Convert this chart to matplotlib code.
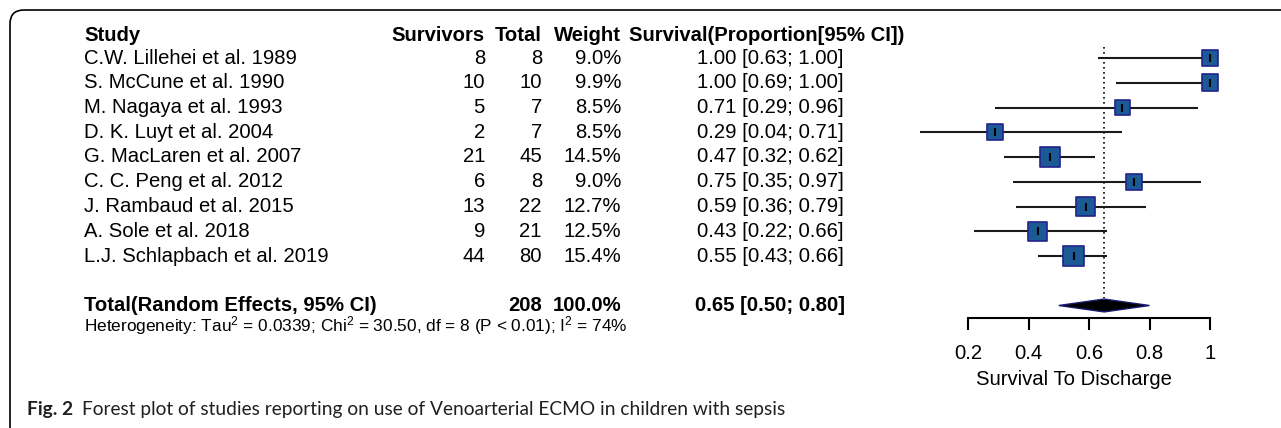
import matplotlib
matplotlib.use('Agg')
import matplotlib.pyplot as plt
from matplotlib.patches import FancyBboxPatch
import numpy as np

plt.rcParams['font.family'] = ['Liberation Sans', 'DejaVu Sans']
plt.rcParams['mathtext.fontset'] = 'custom'
plt.rcParams['mathtext.rm'] = 'Liberation Sans'
plt.rcParams['mathtext.default'] = 'regular'

# ---------------------------------------------------------------- data
studies = ['C.W. Lillehei et al. 1989', 'S. McCune et al. 1990', 'M. Nagaya et al. 1993',
           'D. K. Luyt et al. 2004', 'G. MacLaren et al. 2007', 'C. C. Peng et al. 2012',
           'J. Rambaud et al. 2015', 'A. Sole et al. 2018', 'L.J. Schlapbach et al. 2019']
survivors = [8, 10, 5, 2, 21, 6, 13, 9, 44]
totals = [8, 10, 7, 7, 45, 8, 22, 21, 80]
weights = [9.0, 9.9, 8.5, 8.5, 14.5, 9.0, 12.7, 12.5, 15.4]
prop = [1.00, 1.00, 0.71, 0.29, 0.47, 0.75, 0.59, 0.43, 0.55]
lower = [0.63, 0.69, 0.29, 0.04, 0.32, 0.35, 0.36, 0.22, 0.43]
upper = [1.00, 1.00, 0.96, 0.71, 0.62, 0.97, 0.79, 0.66, 0.66]
pooled, pooled_lo, pooled_hi = 0.65, 0.50, 0.80
total_n = 208
het = 'Heterogeneity: Tau$^2$ = 0.0339; Chi$^2$ = 30.50, df = 8 (P < 0.01); I$^2$ = 74%'
xticks = [0.2, 0.4, 0.6, 0.8, 1.0]
xticklabels = ['0.2', '0.4', '0.6', '0.8', '1']
caption_bold = 'Fig. 2'
caption = 'Forest plot of studies reporting on use of Venoarterial ECMO in children with sepsis'

W, H = 1281, 428
fig = plt.figure(figsize=(W/100, H/100), dpi=100)

# background axes in pixel units for the text table and frame
bg = fig.add_axes([0, 0, 1, 1])
bg.set_xlim(0, W)
bg.set_ylim(H, 0)
bg.axis('off')
frame = FancyBboxPatch((10, 10), 1400, 460, boxstyle='round,pad=0,rounding_size=14',
                       fc='none', ec='k', lw=1.2)
bg.add_patch(frame)

fs = 14.6
row0 = 58
dy = 24.75
xs_name, xs_surv, xs_tot, xs_w, xs_ci = 84, 485, 542, 621, 770

bg.text(xs_name, 35, 'Study', fontsize=fs, fontweight='bold', va='center')
bg.text(xs_surv, 35, 'Survivors', fontsize=fs, fontweight='bold', va='center', ha='right')
bg.text(xs_tot, 35, 'Total', fontsize=fs, fontweight='bold', va='center', ha='right')
bg.text(xs_w, 35, 'Weight', fontsize=fs, fontweight='bold', va='center', ha='right')
bg.text(629, 35, 'Survival(Proportion[95% CI])', fontsize=fs, fontweight='bold', va='center')

for i in range(len(studies)):
    yy = row0 + i*dy
    bg.text(xs_name, yy, studies[i], fontsize=fs, va='center')
    bg.text(xs_surv, yy, str(survivors[i]), fontsize=fs, va='center', ha='right')
    bg.text(xs_tot, yy, str(totals[i]), fontsize=fs, va='center', ha='right')
    bg.text(xs_w, yy, '%.1f%%' % weights[i], fontsize=fs, va='center', ha='right')
    bg.text(xs_ci, yy, '%.2f [%.2f; %.2f]' % (prop[i], lower[i], upper[i]),
            fontsize=fs, va='center', ha='center')

yt = 311
bg.text(xs_name, yt, 'Total(Random Effects, 95% CI)', fontsize=fs, fontweight='bold', va='baseline')
bg.text(xs_tot, yt, str(total_n), fontsize=fs, fontweight='bold', va='baseline', ha='right')
bg.text(xs_w, yt, '%.1f%%' % sum(weights), fontsize=fs, fontweight='bold', va='baseline', ha='right')
bg.text(xs_ci, yt, '%.2f [%.2f; %.2f]' % (pooled, pooled_lo, pooled_hi),
        fontsize=fs, fontweight='bold', va='baseline', ha='center')
bg.text(xs_name, 331, het, fontsize=12.4, va='baseline')

# caption
t1 = bg.text(27, 410, caption_bold, fontsize=13.8, fontweight='bold', va='center',
             family=['Lato', 'DejaVu Sans'], color='#231f20')
fig.canvas.draw()
bb = t1.get_window_extent()
bg.text(bb.x1 + 9, 410, caption, fontsize=13.8, va='center',
        family=['Lato', 'DejaVu Sans'], color='#231f20')

# ---------------------------------------------------------------- forest axes
x0px, x1px = 907.5, 907.5 + 1.1*302.5
ytop, ybot = 20, 318
ax = fig.add_axes([x0px/W, (H-ybot)/H, (x1px-x0px)/W, (ybot-ytop)/H])
ax.set_xlim(0, 1.1)
ax.set_ylim((ybot-row0)/dy, (ytop-row0)/dy)
ax.patch.set_alpha(0)
for s in ['top', 'right', 'left']:
    ax.spines[s].set_visible(False)
ax.spines['bottom'].set_bounds(0.2, 1.0)
ax.spines['bottom'].set_linewidth(1.5)
ax.set_yticks([])
ax.set_xticks(xticks)
ax.set_xticklabels(xticklabels, fontsize=fs)
ax.tick_params(axis='x', direction='out', length=8.6, width=1.5, pad=10)
ax.set_xlabel('Survival To Discharge', fontsize=fs, labelpad=5)

yrows = np.arange(len(studies))
ax.hlines(yrows, lower, upper, color='#1a1a1a', lw=1.5, zorder=2)
side_pt = 16*0.72*np.sqrt(np.array(weights)/9.0)
ax.scatter(prop, yrows, marker='s', s=side_pt**2, facecolor='#1c5a96',
           edgecolor='#22228c', linewidth=1.2, zorder=3)
ax.plot(prop, yrows, ls='none', marker='|', ms=6, mew=1.5, color='k', zorder=4)

ax.vlines(pooled, -0.45, 9.7, color='k', linestyles=(0, (1, 2)), lw=1.2, zorder=1)
ax.fill([pooled_lo, pooled, pooled_hi, pooled], [10, 9.74, 10, 10.26],
        facecolor='k', edgecolor='#1a1a6e', lw=1, zorder=3)

fig.savefig('out.png', dpi=100)
